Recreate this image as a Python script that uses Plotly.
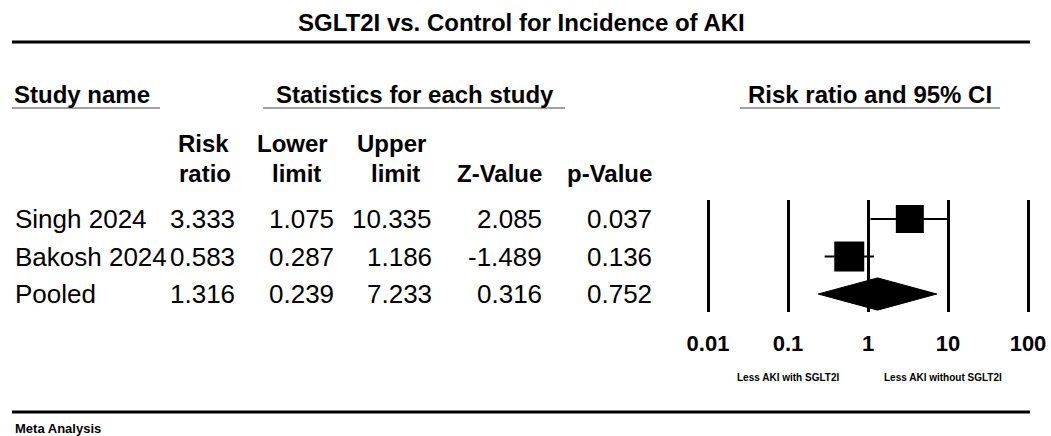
import plotly.graph_objects as go

# study data
studies = ['Singh 2024', 'Bakosh 2024', 'Pooled']
risk_ratio = [3.333, 0.583, 1.316]
lower_limit = [1.075, 0.287, 0.239]
upper_limit = [10.335, 1.186, 7.233]
z_value = [2.085, -1.489, 0.316]
p_value = [0.037, 0.136, 0.752]

axis_ticks = [0.01, 0.1, 1, 10, 100]
axis_ticktext = ['0.01', '0.1', '1', '10', '100']

W, H = 1051, 436
FONT = 'Arial, Liberation Sans, sans-serif'


def px(x):
    return x / W


def py(y):
    return 1 - y / H


fig = go.Figure()

# confidence intervals for the individual studies
for i in range(2):
    fig.add_trace(go.Scatter(x=[lower_limit[i], upper_limit[i]], y=[i, i], mode='lines',
                             line=dict(color='black', width=2), hoverinfo='skip'))

# study squares
fig.add_trace(go.Scatter(x=risk_ratio[:2], y=[0, 1], mode='markers',
                         marker=dict(symbol='square', size=[28, 30], color='black', opacity=1,
                                     line=dict(width=0))))

# pooled diamond
h = 0.43
fig.add_trace(go.Scatter(x=[lower_limit[2], risk_ratio[2], upper_limit[2], risk_ratio[2], lower_limit[2]],
                         y=[2, 2 - h, 2, 2 + h, 2], mode='lines', fill='toself', fillcolor='black',
                         line=dict(color='black', width=1)))

annotations = []


def add_text(text, x, y, size, anchor='left', bold=False):
    if bold:
        text = '<b>' + text + '</b>'
    annotations.append(dict(text=text, x=px(x), y=py(y), xref='paper', yref='paper',
                            xanchor=anchor, yanchor='middle', showarrow=False,
                            font=dict(family=FONT, size=size, color='black')))


add_text('SGLT2I vs. Control for Incidence of AKI', 521, 22, 24, 'center', True)
add_text('Study name', 12, 94, 24, 'left', True)
add_text('Statistics for each study', 415, 94, 24, 'center', True)
add_text('Risk ratio and 95% CI', 870, 94, 24, 'center', True)

# column headers
add_text('Risk', 231, 143, 24, 'right', True)
add_text('ratio', 233, 173, 24, 'right', True)
add_text('Lower', 292, 143, 24, 'center', True)
add_text('limit', 296, 173, 24, 'center', True)
add_text('Upper', 391, 143, 24, 'center', True)
add_text('limit', 395, 173, 24, 'center', True)
add_text('Z-Value', 544, 173, 24, 'right', True)
add_text('p-Value', 654, 173, 24, 'right', True)

row_y = [219, 257, 294]
col_right = [237, 336, 434, 544, 654]
for i, name in enumerate(studies):
    add_text(name, 13, row_y[i], 26)
    vals = [risk_ratio[i], lower_limit[i], upper_limit[i], z_value[i], p_value[i]]
    for v, xr in zip(vals, col_right):
        add_text(f'{v:.3f}', xr, row_y[i], 26, 'right')

add_text('Less AKI with SGLT2I', 788, 377, 10, 'center', True)
add_text('Less AKI without SGLT2I', 943, 377, 10, 'center', True)
add_text('Meta Analysis', 13, 428, 13, 'left', True)

shapes = [
    dict(type='line', xref='paper', yref='paper', x0=px(12), x1=px(1030), y0=py(42), y1=py(42),
         line=dict(color='black', width=3)),
    dict(type='line', xref='paper', yref='paper', x0=px(12), x1=px(1030), y0=py(412), y1=py(412),
         line=dict(color='black', width=3)),
    dict(type='line', xref='paper', yref='paper', x0=px(12), x1=px(160), y0=py(108), y1=py(108),
         line=dict(color='#444', width=1)),
    dict(type='line', xref='paper', yref='paper', x0=px(263), x1=px(565), y0=py(108), y1=py(108),
         line=dict(color='#444', width=1)),
    dict(type='line', xref='paper', yref='paper', x0=px(740), x1=px(1000), y0=py(108), y1=py(108),
         line=dict(color='#444', width=1)),
]

pad = 0.02
dec = 80.0
fig.update_layout(
    width=W, height=H,
    margin=dict(l=0, r=0, t=0, b=0, autoexpand=False),
    paper_bgcolor='white', plot_bgcolor='white',
    showlegend=False,
    annotations=annotations,
    shapes=shapes,
    xaxis=dict(type='log', range=[-2 - pad, 2 + pad],
               domain=[px(708 - pad * dec), px(1028 + pad * dec)],
               tickvals=axis_ticks, ticktext=['<b>' + t + '</b>' for t in axis_ticktext],
               tickfont=dict(family=FONT, size=22, color='black'),
               showgrid=True, gridcolor='black', gridwidth=3,
               zeroline=False, showline=False, ticks='', ticklabelstandoff=16),
    yaxis=dict(range=[2.48, -0.507], domain=[py(312), py(200)], visible=False,
               showgrid=False, zeroline=False),
)

fig.write_html('out.html', config={'displayModeBar': False},
               post_script="document.body.style.margin='0';")
